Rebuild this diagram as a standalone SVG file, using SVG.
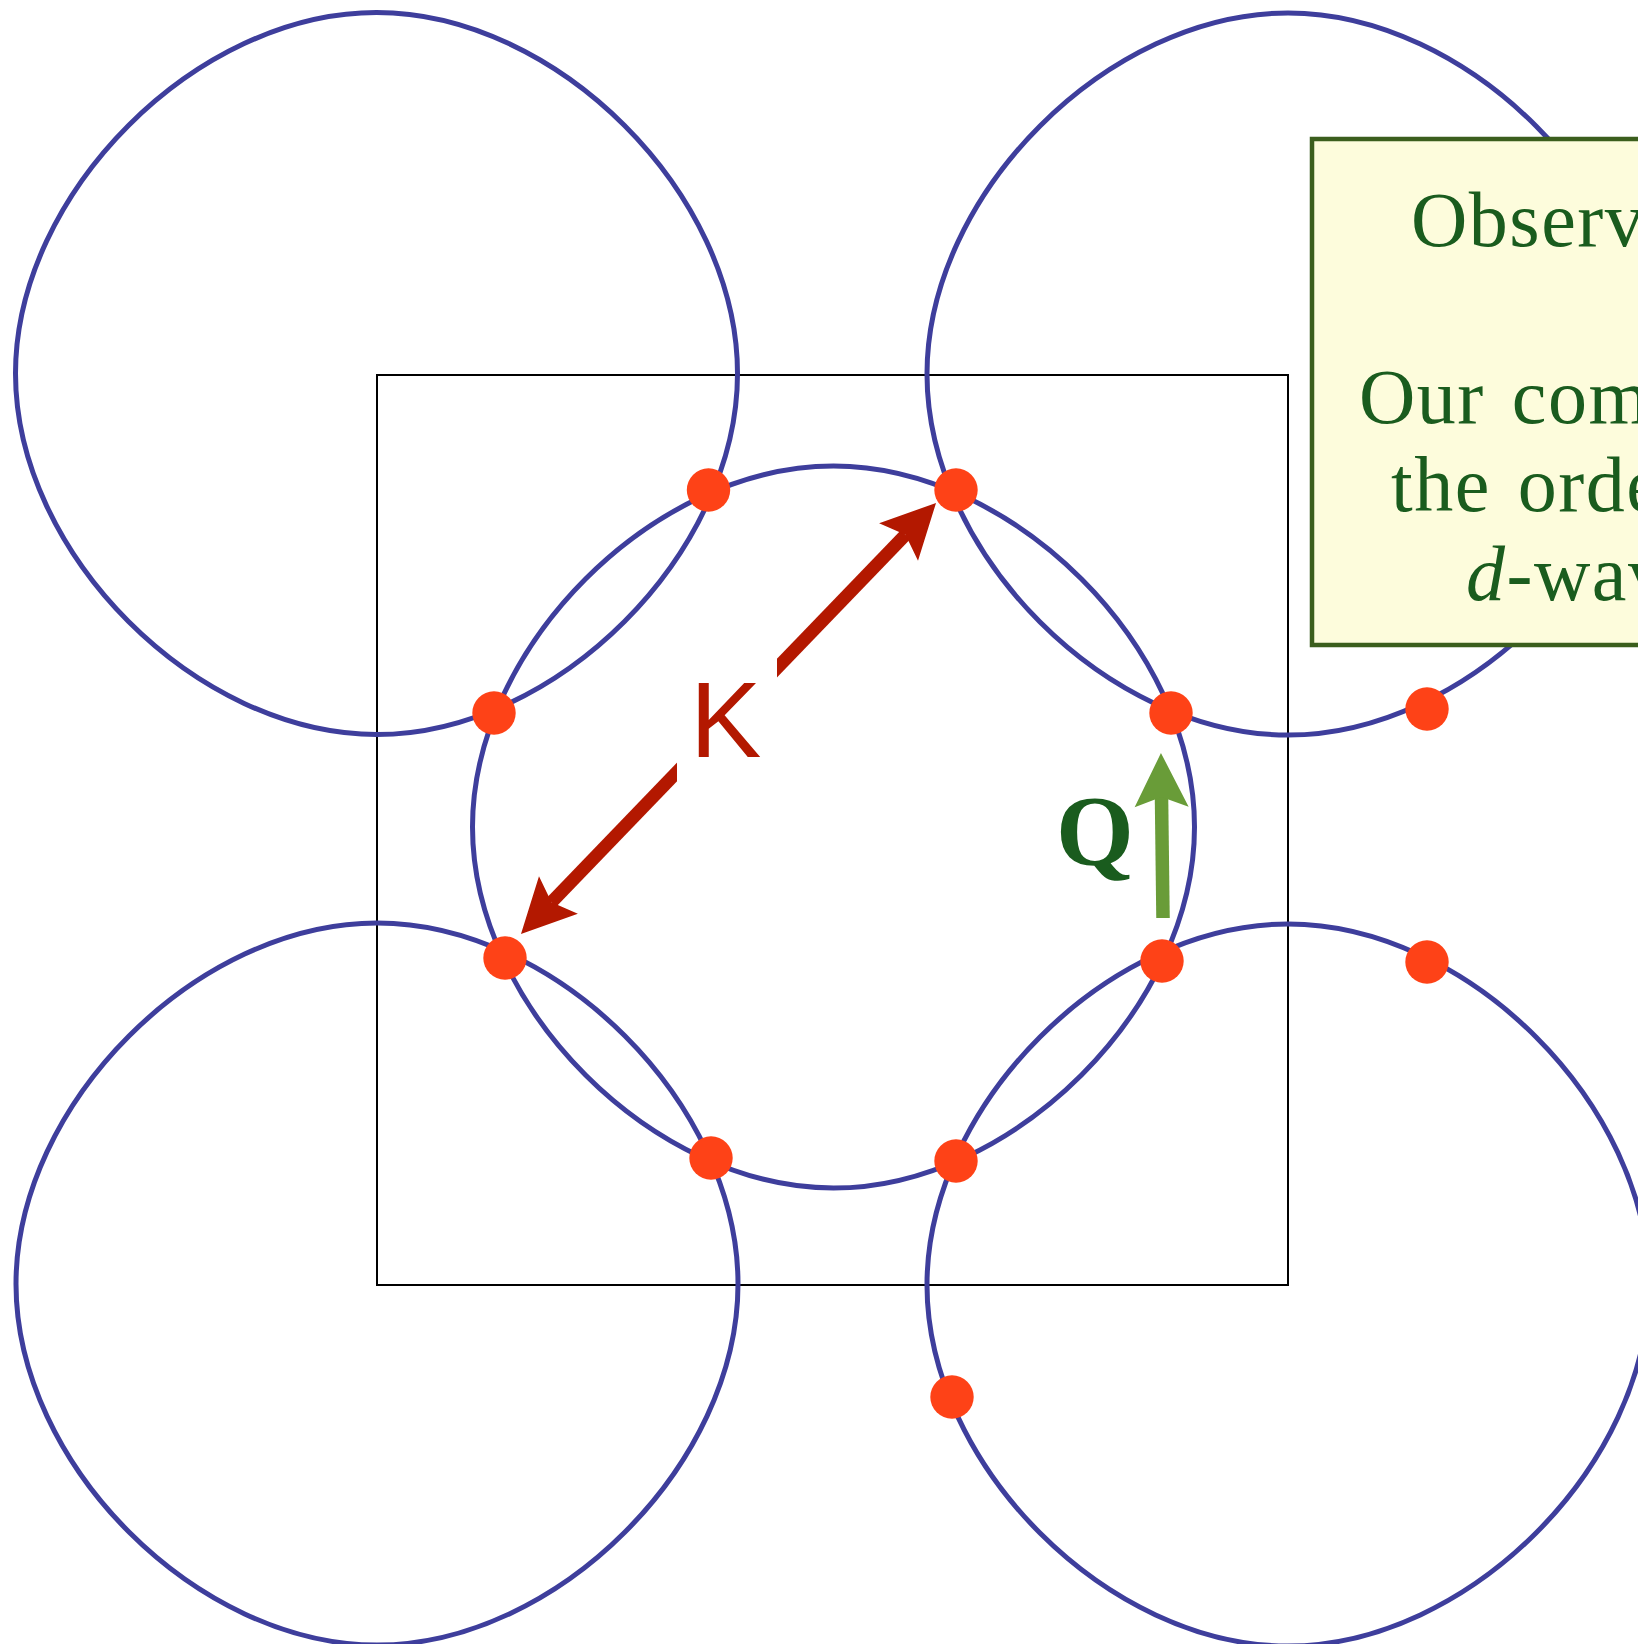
<svg xmlns="http://www.w3.org/2000/svg" xmlns:xlink="http://www.w3.org/1999/xlink" width="1638" height="1644" viewBox="0 0 1638 1644">
  <style>
    .fs { fill: none; stroke: #3e3e9c; stroke-width: 5; }
    .zone { fill: none; stroke: #000; stroke-width: 2; }
    .dot { fill: #fe4217; }
    .boxtxt { font-family: "Liberation Serif", "DejaVu Serif", serif; font-size: 78px; fill: #1a5c1e; letter-spacing: 1.5px; word-spacing: 6px; }
    .klab { font-family: "Liberation Sans", Arial, sans-serif; font-size: 107px; fill: #b31800; }
    .qlab { font-family: "Liberation Serif", "DejaVu Serif", serif; font-size: 100px; font-weight: bold; fill: #1a5c1e; }
  </style>
  <defs>
    <path id="fsShape" d="M361,0 C361,180 180,361 0,361 C-180,361 -361,180 -361,0 C-361,-180 -180,-361 0,-361 C180,-361 361,-180 361,0 Z"/>
    <marker id="headK" markerUnits="userSpaceOnUse" orient="auto-start-reverse" viewBox="-10 -30 60 60" refX="0" refY="0" markerWidth="60" markerHeight="60" overflow="visible">
      <path d="M44,0 L-10,-27 L0,0 L-10,27 Z" fill="#b31800"/>
    </marker>
    <marker id="headQ" markerUnits="userSpaceOnUse" orient="auto" viewBox="-10 -30 60 60" refX="0" refY="0" markerWidth="60" markerHeight="60" overflow="visible">
      <path d="M44,0 L-10,-27 L0,0 L-10,27 Z" fill="#699c38"/>
    </marker>
    <clipPath id="kgap">
      <path clip-rule="evenodd" d="M0,0H1638V1644H0Z M677,640H777V800H677Z"/>
    </clipPath>
  </defs>

  <rect width="1638" height="1644" fill="#fff"/>

  <g id="zone">
    <rect class="zone" x="377" y="375" width="911" height="910"/>
  </g>

  <g id="fermi-surfaces">
    <g id="fs-center"><use class="fs" href="#fsShape" transform="translate(833.5,827)"/></g>
    <g id="fs-top-left"><use class="fs" href="#fsShape" transform="translate(376.5,373.5)"/></g>
    <g id="fs-top-right"><use class="fs" href="#fsShape" transform="translate(1288,374)"/></g>
    <g id="fs-bottom-left"><use class="fs" href="#fsShape" transform="translate(377,1284)"/></g>
    <g id="fs-bottom-right"><use class="fs" href="#fsShape" transform="translate(1288,1285)"/></g>
  </g>

  <g id="connectors">
    <line id="arrow-K" x1="551.5" y1="902.3" x2="905.5" y2="534.7" stroke="#b31800" stroke-width="13" marker-start="url(#headK)" marker-end="url(#headK)" clip-path="url(#kgap)"/>
    <line id="arrow-Q" x1="1163" y1="918" x2="1161.5" y2="797" stroke="#699c38" stroke-width="13.5" marker-end="url(#headQ)"/>
  </g>

  <g id="hot-spots">
    <circle id="hs1" class="dot" cx="708.5" cy="490" r="21.7"/>
    <circle id="hs2" class="dot" cx="956" cy="490" r="21.7"/>
    <circle id="hs3" class="dot" cx="494" cy="713" r="21.7"/>
    <circle id="hs4" class="dot" cx="1171" cy="713" r="21.7"/>
    <circle id="hs5" class="dot" cx="505" cy="958" r="21.7"/>
    <circle id="hs6" class="dot" cx="1162" cy="961" r="21.7"/>
    <circle id="hs7" class="dot" cx="711" cy="1158" r="21.7"/>
    <circle id="hs8" class="dot" cx="956" cy="1161" r="21.7"/>
    <circle id="hs9" class="dot" cx="1427" cy="709" r="21.7"/>
    <circle id="hs10" class="dot" cx="1427" cy="962" r="21.7"/>
    <circle id="hs11" class="dot" cx="952" cy="1397" r="21.7"/>
  </g>

  <g id="label-K">
    <text class="klab" x="690" y="757">K</text>
  </g>
  <g id="label-Q">
    <text class="qlab" x="1056" y="864">Q</text>
  </g>

  <g id="note-box">
    <rect x="1312" y="139" width="420" height="506" fill="#fdfcdc" stroke="#3b5e1d" stroke-width="4.5"/>
    <text class="boxtxt" x="1411" y="246">Observ</text>
    <text class="boxtxt" x="1359" y="423">Our com</text>
    <text class="boxtxt" x="1391" y="511">the orde</text>
    <text class="boxtxt" x="1466" y="600"><tspan font-style="italic">d</tspan>-wav</text>
  </g>
</svg>
